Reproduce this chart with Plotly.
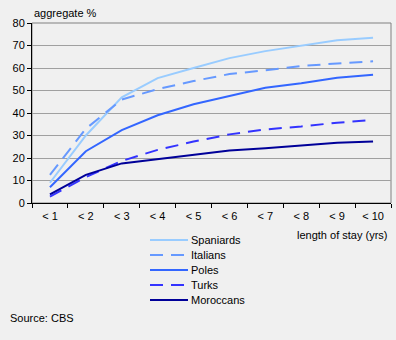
import plotly.graph_objects as go

# Cumulative share (%) by length of stay, per origin group
categories = ["< 1", "< 2", "< 3", "< 4", "< 5", "< 6", "< 7", "< 8", "< 9", "< 10"]
spaniards = [9, 30, 47, 55.5, 60, 64.4, 67.5, 69.8, 72.3, 73.5]
italians = [12.5, 33, 46, 50.6, 54.2, 57.3, 59, 60.9, 62, 63]
poles = [7, 23, 32.4, 39, 43.9, 47.5, 51.2, 53.2, 55.7, 57]
turks = [2.8, 11.5, 18.7, 23.6, 27.3, 30.5, 32.7, 34, 35.7, 36.9]
moroccans = [3.8, 12.5, 17.6, 19.4, 21.3, 23.3, 24.3, 25.5, 26.8, 27.3]

series = [
    ("Spaniards", spaniards, "#99CCFF", "solid"),
    ("Italians", italians, "#6699FF", "13px,8px"),
    ("Poles", poles, "#3366FF", "solid"),
    ("Turks", turks, "#3333FF", "13px,8px"),
    ("Moroccans", moroccans, "#000099", "solid"),
]

FONT = "Liberation Sans, Arial, sans-serif"
W, H = 396, 340
L, R, T, B = 32, 5, 23, 137
PW, PH = W - L - R, H - T - B


def px_x(x):
    return (x - L) / PW


def px_y(y):
    return (H - B - y) / PH


fig = go.Figure()
for name, vals, color, dash in series:
    fig.add_trace(go.Scatter(
        x=categories, y=vals, name=name, mode="lines",
        line=dict(color=color, width=2, dash=dash),
        showlegend=False,
    ))

# Plot frame
shapes = [dict(
    type="rect", xref="paper", yref="paper", x0=0, x1=1, y0=0, y1=1,
    line=dict(color="#808080", width=1), layer="below",
)]
annotations = [
    dict(text="aggregate %", xref="paper", yref="paper", x=0, y=px_y(13),
         xanchor="left", yanchor="middle", showarrow=False),
    dict(text="length of stay (yrs)", xref="paper", yref="paper", x=px_x(389), y=px_y(235),
         xanchor="right", yanchor="middle", showarrow=False),
    dict(text="Source: CBS", xref="paper", yref="paper", x=px_x(8), y=px_y(318),
         xanchor="left", yanchor="middle", showarrow=False),
]

# Legend drawn as line samples with labels
for i, (name, vals, color, dash) in enumerate(series):
    yy = px_y(240 + 15 * i)
    shapes.append(dict(
        type="line", xref="paper", yref="paper",
        x0=px_x(150), x1=px_x(188), y0=yy, y1=yy,
        line=dict(color=color, width=2, dash=dash),
    ))
    annotations.append(dict(
        text=name, xref="paper", yref="paper", x=px_x(189), y=yy,
        xanchor="left", yanchor="middle", showarrow=False,
    ))

fig.update_layout(
    width=W, height=H,
    margin=dict(l=L, r=R, t=T, b=B, autoexpand=False),
    paper_bgcolor="#F0F0F0", plot_bgcolor="#F0F0F0",
    font=dict(family=FONT, size=11, color="#000000"),
    showlegend=False,
    shapes=shapes,
    annotations=annotations,
)

fig.update_xaxes(
    type="category", range=[-0.5, 9.5],
    showline=True, linecolor="#000000", linewidth=1,
    ticks="outside", tickson="boundaries", ticklen=4, tickcolor="#000000",
    ticklabelstandoff=3,
    showgrid=False, zeroline=False,
)
fig.update_yaxes(
    range=[0, 80], dtick=10,
    showline=True, linecolor="#000000", linewidth=1,
    ticks="outside", ticklen=4, tickcolor="#000000",
    showgrid=True, gridcolor="#A0A0A0", gridwidth=1, zeroline=False,
)

fig.write_html("out.html")
